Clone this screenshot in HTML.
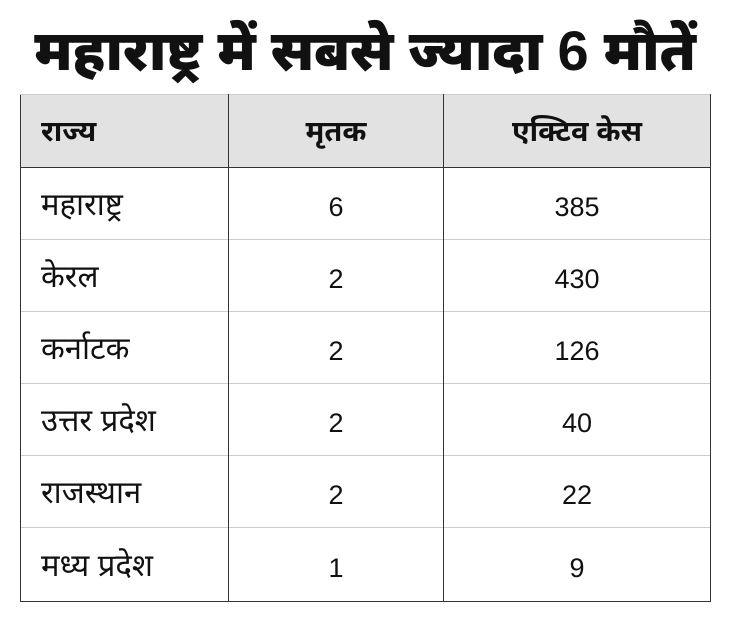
<!DOCTYPE html>
<html><head><meta charset="utf-8"><style>
body{margin:0;width:730px;height:618px;background:#fff;font-family:"Liberation Sans","Noto Sans Devanagari","Lohit Devanagari",sans-serif;color:#111;overflow:hidden}
h1{position:absolute;left:0;top:19px;width:730px;margin:0;text-align:center;font-size:56px;font-weight:900;line-height:64px;white-space:nowrap;letter-spacing:-0.3px}
table{position:absolute;left:20px;top:94px;width:691px;border-collapse:collapse;border:1.5px solid #333}
td,th{height:72px;font-size:27px;border-left:1.5px solid #333;border-right:1.5px solid #333;border-top:1px solid #ccc;padding:8px 0 0 0;box-sizing:border-box}
td .d{font-size:31px}
th{background:#e2e2e3;font-weight:bold;height:73px;border-bottom:1.5px solid #333;font-size:29px;padding-top:6px}
tr:last-child td{height:74px}
td:first-child,th:first-child{text-align:left;padding-left:20px;width:208px}
td:nth-child(2),th:nth-child(2){text-align:center;width:215px}
td:nth-child(3),th:nth-child(3){text-align:center}
</style></head><body>
<h1>महाराष्ट्र में सबसे ज्यादा 6 मौतें</h1>
<table>
<tr><th>राज्य</th><th>मृतक</th><th>एक्टिव केस</th></tr>
<tr><td><span class="d">महाराष्ट्र</span></td><td>6</td><td>385</td></tr>
<tr><td><span class="d">केरल</span></td><td>2</td><td>430</td></tr>
<tr><td><span class="d">कर्नाटक</span></td><td>2</td><td>126</td></tr>
<tr><td><span class="d">उत्तर प्रदेश</span></td><td>2</td><td>40</td></tr>
<tr><td><span class="d">राजस्थान</span></td><td>2</td><td>22</td></tr>
<tr><td><span class="d">मध्य प्रदेश</span></td><td>1</td><td>9</td></tr>
</table>
</body></html>
